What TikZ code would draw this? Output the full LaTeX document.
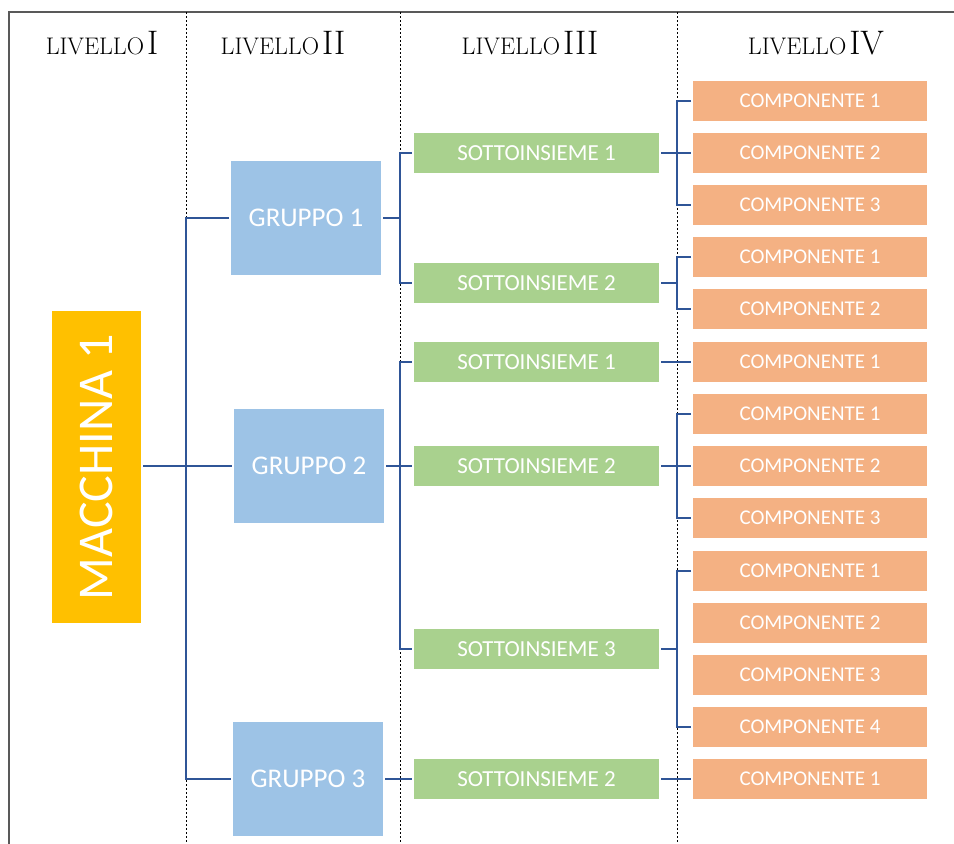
\documentclass[tikz,border=0pt]{standalone}
\usepackage{fontspec}
\newfontfamily\boxfont{Carlito}
\usetikzlibrary{positioning}

\definecolor{macchina}{HTML}{FFC000}
\definecolor{gruppo}{HTML}{9DC3E6}
\definecolor{sottoins}{HTML}{A9D18E}
\definecolor{componente}{HTML}{F4B183}
\definecolor{linkblue}{HTML}{2F5597}

\newcommand{\livello}[1]{{\fontsize{24}{24}\selectfont LIVELLO}\hspace{3pt}{\fontsize{34}{34}\selectfont #1}}

\tikzset{
  box/.style={rectangle, inner sep=0pt, outer sep=2pt, text=white, font=\boxfont},
  mbox/.style={box, fill=macchina, minimum width=89pt, minimum height=312pt},
  gbox/.style={box, fill=gruppo, minimum width=150pt, minimum height=114pt, font=\boxfont\fontsize{27}{27}\selectfont},
  sbox/.style={box, fill=sottoins, minimum width=245pt, minimum height=40pt, font=\boxfont\fontsize{23}{23}\selectfont},
  cbox/.style={box, fill=componente, minimum width=234pt, minimum height=40pt, font=\boxfont\fontsize{21}{21}\selectfont},
  link/.style={draw=linkblue, line width=1.8pt},
  sep/.style={black, line width=0.7pt, dash pattern=on 2pt off 2pt},
}

\begin{document}
\begin{tikzpicture}[x=1pt, y=-1pt]
    \useasboundingbox (0,0) rectangle (954,844);

    % frame and columns
    \draw[gray!70!black, line width=1.2pt] (9,844) -- (9,12) -- (954,12);
    \draw[sep] (186,12) -- (186,844);
    \draw[sep] (400,12) -- (400,844);
    \draw[sep] (677,12) -- (677,844);

    % headers
    \node (h1) at (102,43) {\livello{I}};
    \node (h2) at (283,43) {\livello{II}};
    \node (h3) at (530,43) {\livello{III}};
    \node (h4) at (816,43) {\livello{IV}};

    % level I
    \node[mbox] (m) at (96.5,467) {};
    \node[rotate=90, text=white, font=\boxfont\fontsize{50}{50}\selectfont] (mt) at (m.center) {MACCHINA 1};

    % level II
    \node[gbox] (g1) at (306,218) {GRUPPO 1};
    \node[gbox] (g2) at (309,466) {GRUPPO 2};
    \node[gbox] (g3) at (308,779) {GRUPPO 3};

    % level III
    \node[sbox] (s1) at (536.5,153) {SOTTOINSIEME 1};
    \node[sbox] (s2) at (536.5,283) {SOTTOINSIEME 2};
    \node[sbox] (s3) at (536.5,362) {SOTTOINSIEME 1};
    \node[sbox] (s4) at (536.5,466) {SOTTOINSIEME 2};
    \node[sbox] (s5) at (536.5,649) {SOTTOINSIEME 3};
    \node[sbox] (s6) at (536.5,779) {SOTTOINSIEME 2};

    % level IV
    \node[cbox] (c1) at (810,101) {COMPONENTE 1};
    \node[cbox] (c2) at (810,153) {COMPONENTE 2};
    \node[cbox] (c3) at (810,205) {COMPONENTE 3};
    \node[cbox] (c4) at (810,257) {COMPONENTE 1};
    \node[cbox] (c5) at (810,309) {COMPONENTE 2};
    \node[cbox] (c6) at (810,362) {COMPONENTE 1};
    \node[cbox] (c7) at (810,414) {COMPONENTE 1};
    \node[cbox] (c8) at (810,466) {COMPONENTE 2};
    \node[cbox] (c9) at (810,518) {COMPONENTE 3};
    \node[cbox] (c10) at (810,571) {COMPONENTE 1};
    \node[cbox] (c11) at (810,623) {COMPONENTE 2};
    \node[cbox] (c12) at (810,675) {COMPONENTE 3};
    \node[cbox] (c13) at (810,727) {COMPONENTE 4};
    \node[cbox] (c14) at (810,779) {COMPONENTE 1};

    % bus lines
    \coordinate (bus1) at (186,0);
    \coordinate (bus2) at (400,0);
    \coordinate (bus3) at (677,0);

    % I -> II
    \draw[link] (m.east |- g2.west) -- (g2.west);
    \draw[link] (g1.west) -| (bus1 |- g3.west) -- (g3.west);

    % II -> III
    \draw[link] (g1.east) -- (g1.east -| bus2);
    \draw[link] (s1.west) -| (bus2 |- s2.west) -- (s2.west);
    \draw[link] (g2.east) -- (s4.west);
    \draw[link] (s3.west) -| (bus2 |- s5.west) -- (s5.west);
    \draw[link] (g3.east) -- (s6.west);

    % III -> IV
    \draw[link] (s1.east) -- (c2.west);
    \draw[link] (c1.west) -| (bus3 |- c3.west) -- (c3.west);
    \draw[link] (s2.east) -- (s2.east -| bus3);
    \draw[link] (c4.west) -| (bus3 |- c5.west) -- (c5.west);
    \draw[link] (s3.east) -- (c6.west);
    \draw[link] (s4.east) -- (c8.west);
    \draw[link] (c7.west) -| (bus3 |- c9.west) -- (c9.west);
    \draw[link] (s5.east) -- (s5.east -| bus3);
    \draw[link] (c10.west) -| (bus3 |- c13.west) -- (c13.west);
    \draw[link] (s6.east) -- (c14.west);
\end{tikzpicture}
\end{document}
